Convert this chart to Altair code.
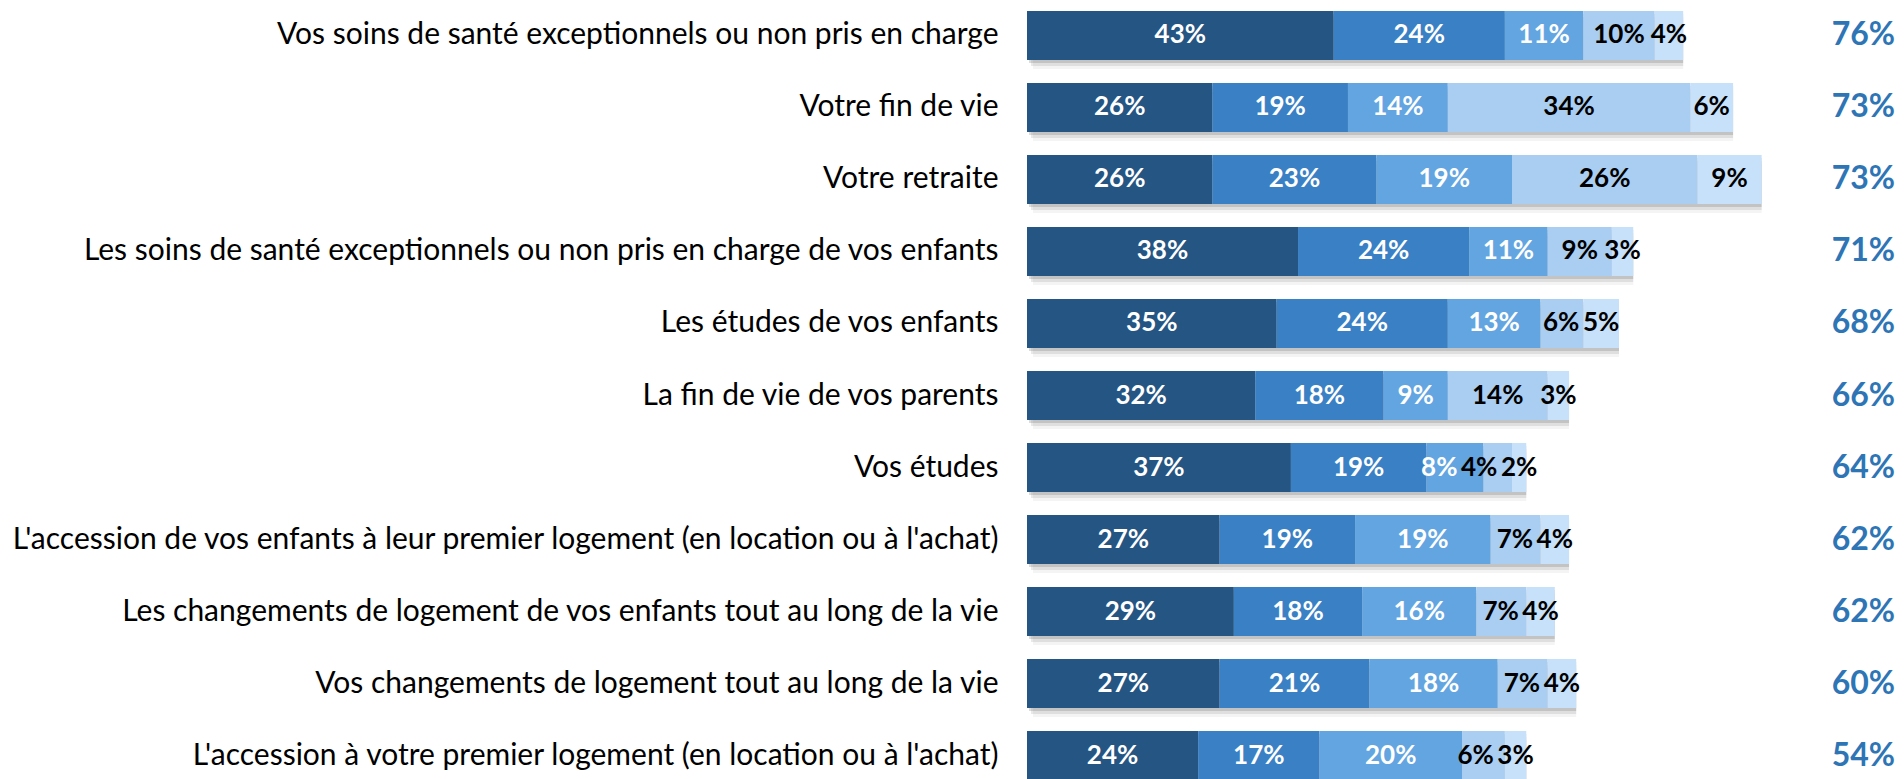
import altair as alt
import pandas as pd

categories = [
    "Vos soins de santé exceptionnels ou non pris en charge",
    "Votre fin de vie",
    "Votre retraite",
    "Les soins de santé exceptionnels ou non pris en charge de vos enfants",
    "Les études de vos enfants",
    "La fin de vie de vos parents",
    "Vos études",
    "L'accession de vos enfants à leur premier logement (en location ou à l'achat)",
    "Les changements de logement de vos enfants tout au long de la vie",
    "Vos changements de logement tout au long de la vie",
    "L'accession à votre premier logement (en location ou à l'achat)",
]
seg1 = [43, 26, 26, 38, 35, 32, 37, 27, 29, 27, 24]
seg2 = [24, 19, 23, 24, 24, 18, 19, 19, 18, 21, 17]
seg3 = [11, 14, 19, 11, 13, 9, 8, 19, 16, 18, 20]
seg4 = [10, 34, 26, 9, 6, 14, 4, 7, 7, 7, 6]
seg5 = [4, 6, 9, 3, 5, 3, 2, 4, 4, 4, 3]
totals = [76, 73, 73, 71, 68, 66, 64, 62, 62, 60, 54]

colors = ["#245583", "#3A80C4", "#62A5E1", "#A9CEF2", "#C7E1FA"]


def label_width(v):
    # approximate label width in axis units, used only to keep labels apart
    return 4.6 if v < 10 else 6.6


records = []
sums = []
for i, cat in enumerate(categories):
    vals = [seg1[i], seg2[i], seg3[i], seg4[i], seg5[i]]
    starts = []
    start = 0
    for v in vals:
        starts.append(start)
        start += v
    sums.append(start)
    mids = [s + v / 2 for s, v in zip(starts, vals)]
    pos = list(mids)
    for j in range(len(vals) - 2, -1, -1):
        limit = pos[j + 1] - (label_width(vals[j]) + label_width(vals[j + 1])) / 2 - 1.0
        pos[j] = min(pos[j], limit)
    for j, v in enumerate(vals):
        records.append(dict(cat=cat, seg=j, value=v, start=starts[j], end=starts[j] + v,
                            mid=pos[j], label=f"{v}%"))
df = pd.DataFrame(records)
tot = pd.DataFrame(dict(cat=categories, origin=[0] * len(categories), sum=sums,
                        label=[f"{t}%" for t in totals]))

XMAX = 121.7
xsc = alt.Scale(domain=[0, XMAX], nice=False, zero=True)
y = alt.Y("cat:N", sort=categories,
          scale=alt.Scale(range=[3, 772], paddingInner=0.32, paddingOuter=0),
          axis=alt.Axis(title=None, domain=False, ticks=False, grid=False,
                        labelFontSize=30, labelFont="Lato", labelColor="#000000",
                        labelPadding=29, labelLimit=1100))

shadows = []
for dx, dy, op in [(2, 3, 0.22), (4, 6, 0.14), (6, 9, 0.07)]:
    shadows.append(
        alt.Chart(tot).mark_bar(color="#606060", opacity=op, xOffset=dx, yOffset=dy).encode(
            x=alt.X("origin:Q", scale=xsc, axis=None), x2="sum:Q", y=y)
    )

bars = alt.Chart(df).mark_bar().encode(
    x=alt.X("start:Q", scale=xsc, axis=None), x2="end:Q", y=y,
    color=alt.Color("seg:N", scale=alt.Scale(domain=[0, 1, 2, 3, 4], range=colors), legend=None),
)

labels = alt.Chart(df).mark_text(font="Lato", fontWeight="bold", fontSize=26, baseline="middle").encode(
    x=alt.X("mid:Q", scale=xsc, axis=None), y=y, text="label:N",
    color=alt.condition("datum.seg < 3", alt.value("white"), alt.value("black")),
)

tot_text = alt.Chart(tot).mark_text(font="Lato", fontWeight="bold", fontSize=32,
                                    align="right", baseline="middle", color="#2E75B6").encode(
    x=alt.datum(XMAX), y=y, text="label:N"
)

chart = alt.layer(*shadows, bars, labels, tot_text).properties(
    width=868, height=771,
    padding={"left": 1019, "top": 0, "right": 0, "bottom": 0},
    autosize=alt.AutoSizeParams(type="none"),
).configure_view(stroke=None)

chart.save("out.html", embed_options={"renderer": "svg", "actions": False})
